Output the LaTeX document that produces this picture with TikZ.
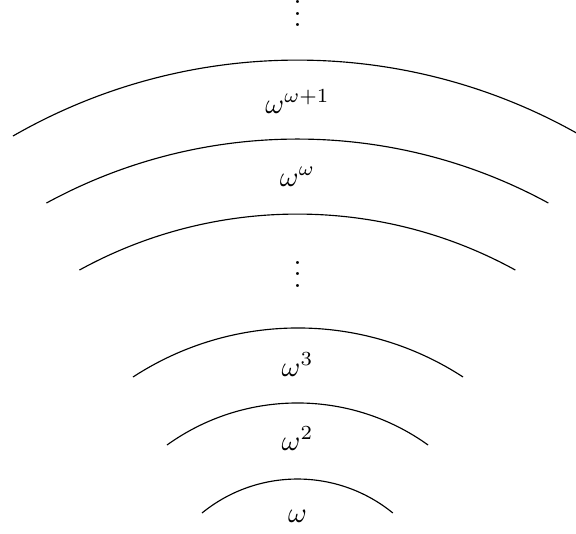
\documentclass[tikz,border=0pt]{standalone}
\begin{document}
\begin{tikzpicture}[x=0.35pt,y=0.35pt,
  level/.style={line width=0.4pt},
  lab/.style={anchor=base,inner sep=0pt}]
\useasboundingbox (0,0) rectangle (576,533);
% arcs (circular, bottom to top)
\draw[level] (202,20)   arc[start angle=129.2, end angle=50.8, radius=151];
\draw[level] (167,88)   arc[start angle=125.7, end angle=54.3, radius=223.7];
\draw[level] (133,156)  arc[start angle=123.1, end angle=56.9, radius=302.2];
\draw[level] (79.5,263) arc[start angle=118.8, end angle=61.2, radius=452.3];
\draw[level] (46.5,330) arc[start angle=118.6, end angle=61.4, radius=524.2];
\draw[level] (13,397)   arc[start angle=119.9, end angle=60.1, radius=570.5];
% labels
\node[lab] (w1)  at (297.5,11)  {$\omega$};
\node[lab] (w2)  at (297.5,83)  {$\omega^2$};
\node[lab] (w3)  at (297.5,157) {$\omega^3$};
\node[lab] (d1)  at (297.5,246) {$\vdots$};
\node[lab] (ww)  at (297.5,347) {$\omega^\omega$};
\node[lab] (ww1) at (297.5,420) {$\omega^{\omega+1}$};
\node[lab] (d2)  at (297.5,506.5) {$\vdots$};
\end{tikzpicture}
\end{document}
